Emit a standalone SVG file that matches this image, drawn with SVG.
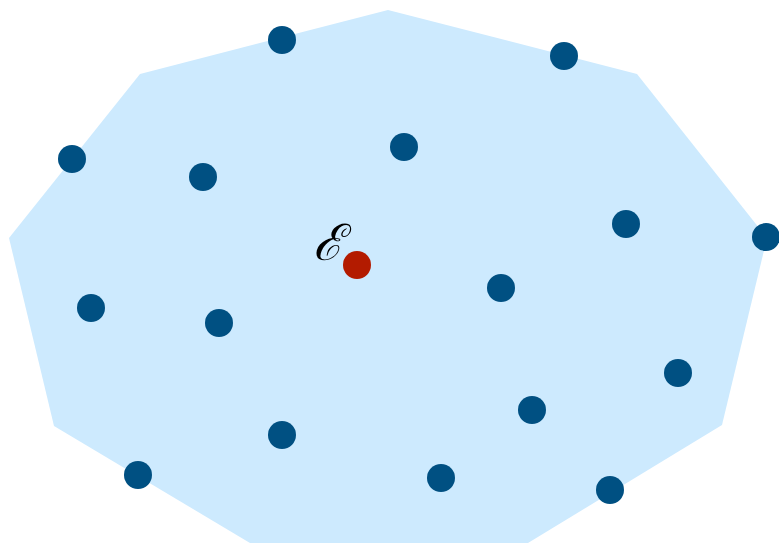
<svg xmlns="http://www.w3.org/2000/svg" width="779" height="543" viewBox="0 0 779 543">
<style>
.pt{fill:#005082}
.lbl{font-family:"DejaVu Serif","Liberation Serif",serif;font-style:italic;font-size:50px;fill:#000}
</style>
<rect width="779" height="543" fill="#fff"/>
<g id="region"><polygon points="388,10 637,74 767,238 722,425 528,543 250,543 54,426 9,238 140,74" fill="#cdeafe"/></g>
<g id="connectors"></g>
<g id="n1"><circle class="pt" cx="282" cy="40" r="14"/></g>
<g id="n2"><circle class="pt" cx="564" cy="56" r="14"/></g>
<g id="n3"><circle class="pt" cx="72" cy="159" r="14"/></g>
<g id="n4"><circle class="pt" cx="203" cy="177" r="14"/></g>
<g id="n5"><circle class="pt" cx="404" cy="147" r="14"/></g>
<g id="n6"><circle class="pt" cx="626" cy="224" r="14"/></g>
<g id="n7"><circle class="pt" cx="766" cy="237" r="14"/></g>
<g id="n8"><circle class="pt" cx="91" cy="308" r="14"/></g>
<g id="n9"><circle class="pt" cx="219" cy="323" r="14"/></g>
<g id="n10"><circle class="pt" cx="501" cy="288" r="14"/></g>
<g id="n11"><circle class="pt" cx="678" cy="373" r="14"/></g>
<g id="n12"><circle class="pt" cx="532" cy="410" r="14"/></g>
<g id="n13"><circle class="pt" cx="282" cy="435" r="14"/></g>
<g id="n14"><circle class="pt" cx="138" cy="475" r="14"/></g>
<g id="n15"><circle class="pt" cx="441" cy="478" r="14"/></g>
<g id="n16"><circle class="pt" cx="610" cy="490" r="14"/></g>
<g id="e"><circle cx="357" cy="265" r="14" fill="#b31b00"/><text class="lbl" x="328" y="260" text-anchor="middle">ℰ</text></g>
</svg>
